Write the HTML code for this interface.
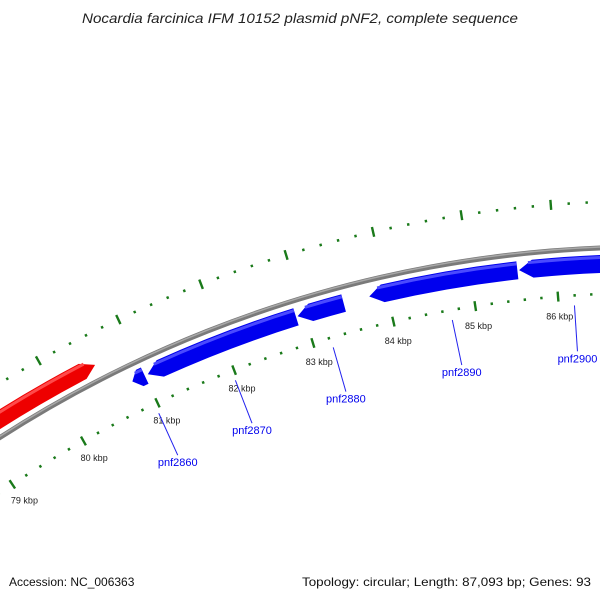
<!DOCTYPE html>
<html><head><meta charset="utf-8"><style>
html,body{margin:0;padding:0;background:#fff;width:600px;height:600px;overflow:hidden}
svg{display:block;overflow:hidden}
text{font-family:"Liberation Sans",sans-serif}
</style></head><body>
<svg id="map" width="600" height="600" viewBox="0 0 600 600" xmlns="http://www.w3.org/2000/svg">
<text x="300" y="23" text-anchor="middle" font-size="14" font-style="italic" fill="#222" textLength="436" lengthAdjust="spacingAndGlyphs">Nocardia farcinica IFM 10152 plasmid pNF2, complete sequence</text>
<g id="tracks"></g>
<text x="9" y="586" font-size="12" fill="#111">Accession: NC_006363</text>
<text x="591" y="586" font-size="12" fill="#111" text-anchor="end" textLength="289" lengthAdjust="spacingAndGlyphs">Topology: circular; Length: 87,093 bp; Genes: 93</text>
</svg>
<script>
const seqLength = 87.093;
const tickKbp = [77,78,79,80,81,82,83,84,85,86,87];
const tickLabels = ["77 kbp","78 kbp","79 kbp","80 kbp","81 kbp","82 kbp","83 kbp","84 kbp","85 kbp","86 kbp","87 kbp"];
const geneStarts = [77.5, 80.84, 81.04, 82.92, 83.79, 85.57];
const geneEnds = [80.54, 81.0, 82.90, 83.48, 85.55, 87.5];
const geneStrand = [1, -1, -1, -1, -1, -1];
const labelNames = ["pnf2860","pnf2870","pnf2880","pnf2890","pnf2900"];
const labelKbp = [80.96, 81.97, 83.22, 84.70, 86.19];
const labelEndKbp = [80.95, 81.97, 83.22, 84.72, 86.19];

const cx=649, cy=1448, NS="http://www.w3.org/2000/svg";
const g=document.getElementById('tracks');
function pt(r,k){const t=k/seqLength*2*Math.PI;return [cx+r*Math.sin(t), cy-r*Math.cos(t)];}
function mk(tag,attrs){const e=document.createElementNS(NS,tag);for(const a in attrs)e.setAttribute(a,attrs[a]);g.appendChild(e);return e;}

let bb=mk('circle',{cx:cx,cy:cy,r:1201,fill:'none',stroke:'#7a7a7a','stroke-width':5});


let bb2=mk('circle',{cx:cx,cy:cy,r:1202,fill:'none',stroke:'#a8a8a8','stroke-width':1.5});



[[1155,'inner'],[1247,'outer']].forEach(([R,nm])=>{
  for(let i=770;i<=875;i++){
    const k=i/10; if(i%2) continue;
    const major=(i%10===0);
    const h=major?5:1.3;
    const a=pt(R-h,k), b=pt(R+h,k);
    const l=mk('line',{x1:a[0],y1:a[1],x2:b[0],y2:b[1],stroke:'#1a7a1a','stroke-width':2.4});
    
    
  }
});
tickKbp.forEach((k,i)=>{
  const p=pt(1133,k);
  const t=mk('text',{x:p[0],y:p[1]+1,'font-size':9,'text-anchor':'middle',fill:'#222'});
  t.textContent=tickLabels[i];
  
  
});

function arc(r1,r2,k1,k2){
  const a=pt(r2,k1),b=pt(r2,k2),c=pt(r1,k2),d=pt(r1,k1);
  return `M${a[0]},${a[1]} A${r2},${r2} 0 0 1 ${b[0]},${b[1]} L${c[0]},${c[1]} A${r1},${r1} 0 0 0 ${d[0]},${d[1]}Z`;
}
function geneShape(r1,r2,k1,k2,strand){
  const tip=Math.min(0.16,(k2-k1)*0.6), rm=(r1+r2)/2;
  if(strand>0){
    const a=pt(r2,k1),b=pt(r2,k2-tip),m=pt(rm,k2),c=pt(r1,k2-tip),d=pt(r1,k1);
    return `M${a[0]},${a[1]} A${r2},${r2} 0 0 1 ${b[0]},${b[1]} L${m[0]},${m[1]} L${c[0]},${c[1]} A${r1},${r1} 0 0 0 ${d[0]},${d[1]}Z`;
  } else {
    const m=pt(rm,k1),a=pt(r2,k1+tip),b=pt(r2,k2),c=pt(r1,k2),d=pt(r1,k1+tip);
    return `M${m[0]},${m[1]} L${a[0]},${a[1]} A${r2},${r2} 0 0 1 ${b[0]},${b[1]} L${c[0]},${c[1]} A${r1},${r1} 0 0 0 ${d[0]},${d[1]}Z`;
  }
}
geneStarts.forEach((s,i)=>{
  const e=geneEnds[i], fw=geneStrand[i]>0;
  const r1=fw?1208:1176, r2=fw?1225:1194;
  const p=mk('path',{d:geneShape(r1,r2,s,e,geneStrand[i]),fill:fw?'#ee0000':'#0000ee'});
  
  
  const tip=Math.min(0.16,(e-s)*0.6);
  const hs=fw?s:s+tip*0.7, he=fw?e-tip*0.7:e;
  const h=mk('path',{d:arc(r2-4,r2-1,hs,he),fill:fw?'#ff4a4a':'#4a4aff'});
  
  
});

labelNames.forEach((n,i)=>{
  const a=pt(1145,labelKbp[i]), b=pt(1099,labelEndKbp[i]);
  const l=mk('line',{x1:a[0],y1:a[1],x2:b[0],y2:b[1],stroke:'#2222ee','stroke-width':1});
  
  
  const t=mk('text',{x:b[0],y:b[1]+11,'font-size':11,'text-anchor':'middle',fill:'#0000ee'});
  t.textContent=n;
  
  
});
</script>
</body></html>
